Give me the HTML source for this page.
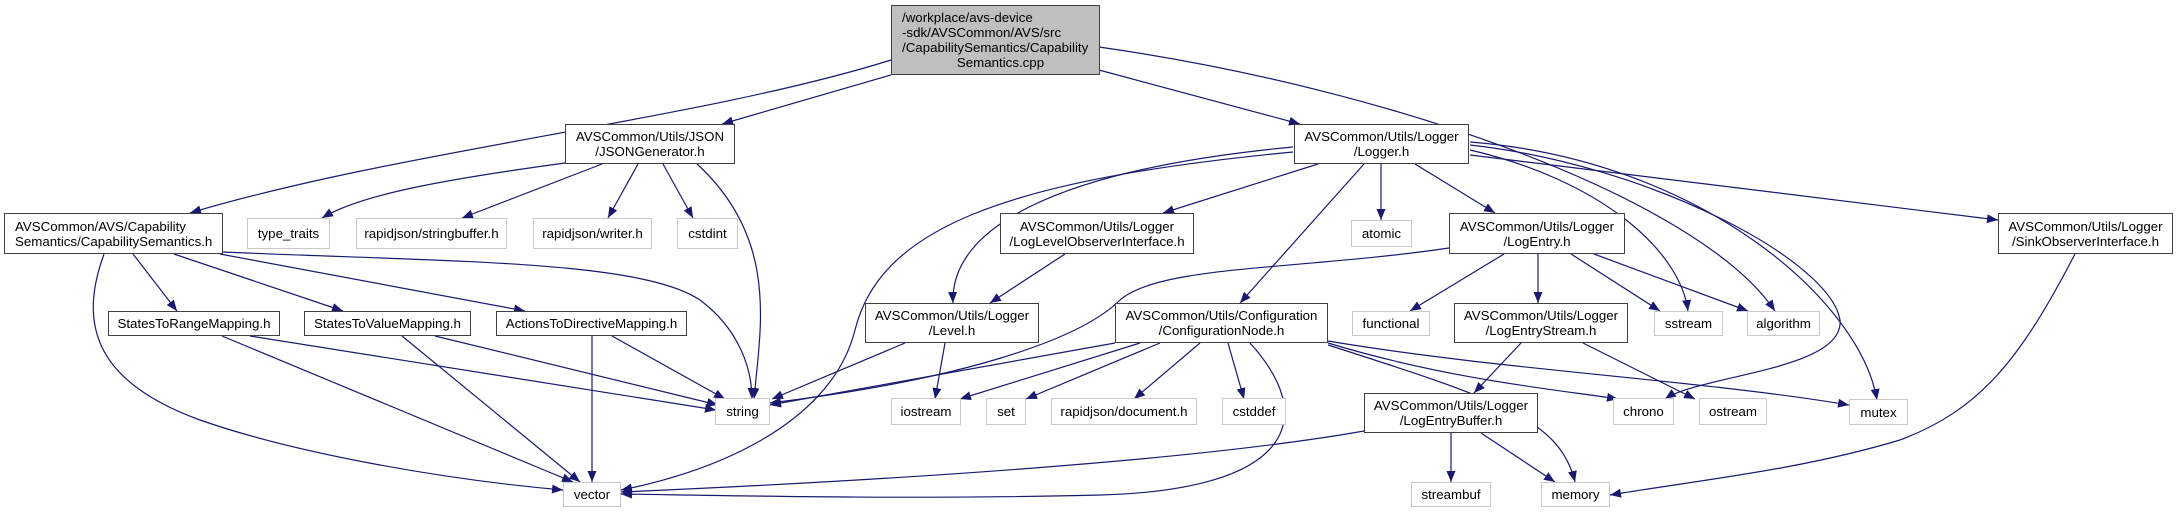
<!DOCTYPE html>
<html><head><meta charset="utf-8"><style>
html,body{margin:0;padding:0;background:#fff;}
body{width:2178px;height:513px;position:relative;overflow:hidden;font-family:"Liberation Sans",Arial,sans-serif;}
.n{position:absolute;box-sizing:border-box;border:1.5px solid #404040;background:#fff;font-size:13.3px;line-height:15px;color:#000;display:flex;flex-direction:column;justify-content:center;align-items:center;text-align:center;white-space:nowrap;}
.g{border:1.5px solid #c8c8c8;}
.l{align-items:flex-start;padding-left:10px;}
svg{position:absolute;left:0;top:0;}
</style></head><body>
<svg width="2178" height="513" viewBox="0 0 2178 513">
<defs><marker id="a" viewBox="0 0 11 9" refX="11" refY="4.5" markerWidth="11" markerHeight="9" markerUnits="userSpaceOnUse" orient="auto"><path d="M0,0 L11,4.5 L0,9 z" fill="#191970"/></marker></defs>
<g fill="none" stroke="#191970" stroke-width="1.2" marker-end="url(#a)">
<path d="M891,60 C700,120 400,150 190,213"/>
<path d="M891,75 L722,124"/>
<path d="M1099,70 L1300,124"/>
<path d="M1099,47 C1400,90 1700,200 1775,311"/>
<path d="M565,163 C440,180 360,195 322,218"/>
<path d="M602,164 L462,218"/>
<path d="M638,164 L608,218"/>
<path d="M663,164 L693,218"/>
<path d="M697,164 C780,240 760,330 754,399"/>
<path d="M133,254 L177,311"/>
<path d="M174,254 L343,311"/>
<path d="M220,254 L525,311"/>
<path d="M223,252 C450,262 640,260 700,300 C740,330 752,370 752,399"/>
<path d="M104,254 C80,320 90,380 200,420 C300,455 450,480 563,490"/>
<path d="M250,336 L716,410"/>
<path d="M222,336 L573,482"/>
<path d="M435,336 L718,405"/>
<path d="M402,336 L580,482"/>
<path d="M592,336 L592,482"/>
<path d="M612,336 L725,399"/>
<path d="M1293,147 C1050,170 950,230 953,303"/>
<path d="M1293,152 C1000,180 880,230 855,330 C830,430 700,475 621,490"/>
<path d="M1318,164 L1163,213"/>
<path d="M1364,164 L1240,303"/>
<path d="M1381,164 L1381,220"/>
<path d="M1415,164 L1495,213"/>
<path d="M1470,155 L1998,220"/>
<path d="M1470,150 C1600,180 1680,250 1688,311"/>
<path d="M1470,145 C1650,165 1830,260 1840,320 C1845,370 1700,375 1665,399"/>
<path d="M1470,142 C1700,160 1860,300 1877,400"/>
<path d="M1065,254 L990,303"/>
<path d="M1449,248 C1300,270 1160,265 1120,300 C1080,340 960,380 770,403"/>
<path d="M1504,254 L1410,311"/>
<path d="M1538,254 L1538,303"/>
<path d="M1571,254 L1660,311"/>
<path d="M1594,254 L1748,311"/>
<path d="M905,343 L772,399"/>
<path d="M945,343 L935,399"/>
<path d="M1115,343 L770,405"/>
<path d="M1140,343 L960,399"/>
<path d="M1160,343 L1026,399"/>
<path d="M1200,343 L1134,399"/>
<path d="M1228,343 L1244,399"/>
<path d="M1250,343 C1320,420 1290,490 1100,495 C900,500 700,495 621,494"/>
<path d="M1328,343 C1450,380 1560,390 1618,399"/>
<path d="M1328,345 C1500,400 1560,420 1575,482"/>
<path d="M1328,341 C1500,370 1700,380 1849,405"/>
<path d="M1521,343 L1474,393"/>
<path d="M1583,343 L1695,399"/>
<path d="M1364,431 C1200,460 900,480 621,492"/>
<path d="M1451,433 L1451,482"/>
<path d="M1481,433 L1555,482"/>
<path d="M2075,254 C2020,360 1980,410 1900,440 C1800,470 1700,480 1610,495"/>
</g></svg>

<div class="n l" style="left:891px;top:5px;width:209px;height:70px;background:#bfbfbf;"><div>/workplace/avs-device</div><div>-sdk/AVSCommon/AVS/src</div><div>/CapabilitySemantics/Capability</div><div style="align-self:center">Semantics.cpp</div></div>
<div class="n" style="left:565px;top:124px;width:170px;height:40px;"><div>AVSCommon/Utils/JSON</div><div>/JSONGenerator.h</div></div>
<div class="n" style="left:1294px;top:124px;width:175px;height:40px;"><div>AVSCommon/Utils/Logger</div><div>/Logger.h</div></div>
<div class="n l" style="left:4px;top:213px;width:219px;height:41px;"><div>AVSCommon/AVS/Capability</div><div>Semantics/CapabilitySemantics.h</div></div>
<div class="n g" style="left:247px;top:218px;width:83px;height:31px;">type_traits</div>
<div class="n g" style="left:356px;top:218px;width:151px;height:31px;">rapidjson/stringbuffer.h</div>
<div class="n g" style="left:533px;top:218px;width:119px;height:31px;">rapidjson/writer.h</div>
<div class="n g" style="left:677px;top:218px;width:61px;height:31px;">cstdint</div>
<div class="n" style="left:1000px;top:213px;width:194px;height:41px;"><div>AVSCommon/Utils/Logger</div><div>/LogLevelObserverInterface.h</div></div>
<div class="n g" style="left:1351px;top:220px;width:61px;height:27px;">atomic</div>
<div class="n" style="left:1449px;top:213px;width:176px;height:41px;"><div>AVSCommon/Utils/Logger</div><div>/LogEntry.h</div></div>
<div class="n" style="left:1998px;top:213px;width:175px;height:41px;"><div>AVSCommon/Utils/Logger</div><div>/SinkObserverInterface.h</div></div>
<div class="n" style="left:108px;top:311px;width:172px;height:25px;">StatesToRangeMapping.h</div>
<div class="n" style="left:304px;top:311px;width:167px;height:25px;">StatesToValueMapping.h</div>
<div class="n" style="left:496px;top:311px;width:191px;height:25px;">ActionsToDirectiveMapping.h</div>
<div class="n" style="left:865px;top:303px;width:174px;height:40px;"><div>AVSCommon/Utils/Logger</div><div>/Level.h</div></div>
<div class="n" style="left:1115px;top:303px;width:213px;height:40px;"><div>AVSCommon/Utils/Configuration</div><div>/ConfigurationNode.h</div></div>
<div class="n g" style="left:1352px;top:311px;width:78px;height:25px;">functional</div>
<div class="n" style="left:1454px;top:303px;width:174px;height:40px;"><div>AVSCommon/Utils/Logger</div><div>/LogEntryStream.h</div></div>
<div class="n g" style="left:1654px;top:311px;width:69px;height:25px;">sstream</div>
<div class="n g" style="left:1747px;top:311px;width:73px;height:25px;">algorithm</div>
<div class="n g" style="left:715px;top:398px;width:55px;height:27px;">string</div>
<div class="n g" style="left:891px;top:398px;width:70px;height:27px;">iostream</div>
<div class="n g" style="left:986px;top:398px;width:40px;height:27px;">set</div>
<div class="n g" style="left:1051px;top:398px;width:146px;height:27px;">rapidjson/document.h</div>
<div class="n g" style="left:1222px;top:398px;width:64px;height:27px;">cstddef</div>
<div class="n" style="left:1364px;top:393px;width:174px;height:40px;"><div>AVSCommon/Utils/Logger</div><div>/LogEntryBuffer.h</div></div>
<div class="n g" style="left:1613px;top:398px;width:61px;height:27px;">chrono</div>
<div class="n g" style="left:1699px;top:398px;width:68px;height:27px;">ostream</div>
<div class="n g" style="left:1849px;top:399px;width:59px;height:26px;">mutex</div>
<div class="n g" style="left:563px;top:482px;width:58px;height:25px;">vector</div>
<div class="n g" style="left:1411px;top:482px;width:80px;height:25px;">streambuf</div>
<div class="n g" style="left:1541px;top:482px;width:69px;height:25px;">memory</div>
</body></html>
